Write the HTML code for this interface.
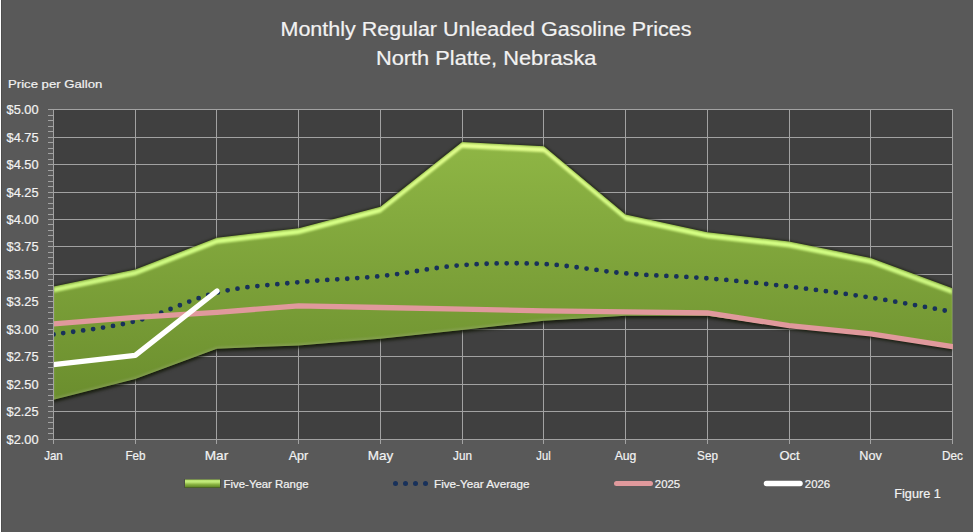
<!DOCTYPE html>
<html><head><meta charset="utf-8"><title>Monthly Regular Unleaded Gasoline Prices</title><style>
html,body{margin:0;padding:0;background:#595959;overflow:hidden;}
svg{display:block;}
</style></head><body>
<svg width="973" height="532" viewBox="0 0 973 532">
<rect x="0" y="0" width="973" height="532" fill="#595959"/>
<rect x="0" y="0" width="1" height="532" fill="#ffffff"/>
<rect x="1" y="0" width="1" height="532" fill="#4d4d4d"/>
<rect x="53" y="109" width="900" height="331" fill="#404040"/>
<path d="M53,109.50H953 M53,137.50H953 M53,164.50H953 M53,192.50H953 M53,219.50H953 M53,246.50H953 M53,274.50H953 M53,301.50H953 M53,329.50H953 M53,356.50H953 M53,384.50H953 M53,411.50H953 M53,439.50H953 M135.50,109V444 M216.50,109V444 M298.50,109V444 M380.50,109V444 M462.50,109V444 M543.50,109V444 M625.50,109V444 M707.50,109V444 M789.50,109V444 M870.50,109V444 M952.50,109V444" stroke="#a2a2a2" stroke-width="1" fill="none"/>
<defs>
<linearGradient id="gfill" x1="0" y1="0" x2="0" y2="1" gradientUnits="objectBoundingBox">
<stop offset="0" stop-color="#8fb645"/><stop offset="1" stop-color="#6b8e2e"/></linearGradient>
<filter id="shadow" x="-5%" y="-10%" width="110%" height="120%" color-interpolation-filters="sRGB">
<feMorphology in="SourceAlpha" operator="dilate" radius="0.8" result="d"/>
<feGaussianBlur in="d" stdDeviation="1.1" result="g"/>
<feFlood flood-color="#1a2010" flood-opacity="0.6"/>
<feComposite in2="g" operator="in" result="gc"/>
<feGaussianBlur in="SourceAlpha" stdDeviation="1.6"/>
<feOffset dx="0" dy="2.6" result="o"/>
<feFlood flood-color="#101505" flood-opacity="0.65"/>
<feComposite in2="o" operator="in" result="sc"/>
<feMerge><feMergeNode in="gc"/><feMergeNode in="sc"/></feMerge>
</filter>
<filter id="bevel" x="-5%" y="-10%" width="110%" height="120%" color-interpolation-filters="sRGB">
<feOffset in="SourceAlpha" dx="0" dy="1.3" result="a1"/>
<feOffset in="SourceAlpha" dx="0" dy="5.5" result="a2"/>
<feComposite in="a1" in2="a2" operator="out" result="band"/>
<feGaussianBlur in="band" stdDeviation="1.0" result="bandb"/>
<feComposite in="bandb" in2="SourceAlpha" operator="in" result="hl"/>
<feComponentTransfer in="SourceGraphic" result="bright">
<feFuncR type="linear" slope="1.15" intercept="0.25"/><feFuncG type="linear" slope="1.15" intercept="0.25"/><feFuncB type="linear" slope="1.15" intercept="0.25"/>
</feComponentTransfer>
<feComposite in="bright" in2="hl" operator="in" result="hlc"/>
<feOffset in="SourceAlpha" dx="0" dy="-2.5" result="o2"/>
<feGaussianBlur in="o2" stdDeviation="1.0" result="b2"/>
<feComposite in="SourceAlpha" in2="b2" operator="out" result="sh"/>
<feFlood flood-color="#98a870" flood-opacity="0.45"/>
<feComposite in2="sh" operator="in" result="shc"/>
<feMerge><feMergeNode in="SourceGraphic"/><feMergeNode in="hlc"/><feMergeNode in="shc"/></feMerge>
</filter>
<clipPath id="plotclip"><rect x="53" y="100" width="900" height="340"/></clipPath>
<clipPath id="areaclip"><rect x="54" y="100" width="898.5" height="340"/></clipPath>
</defs>
<g clip-path="url(#areaclip)"><polygon points="53.50,286.59 135.23,269.54 216.95,237.65 298.68,228.30 380.41,206.85 462.14,141.96 543.86,146.36 625.59,214.55 707.32,232.15 789.05,241.50 870.77,257.99 952.50,288.24 952.50,348.18 870.77,335.53 789.05,327.28 707.32,315.73 625.59,315.73 543.86,320.68 462.14,330.03 380.41,338.83 298.68,345.43 216.95,348.73 135.23,378.97 53.50,399.87" fill="#000" filter="url(#shadow)"/>
<polygon points="53.50,286.59 135.23,269.54 216.95,237.65 298.68,228.30 380.41,206.85 462.14,141.96 543.86,146.36 625.59,214.55 707.32,232.15 789.05,241.50 870.77,257.99 952.50,288.24 952.50,348.18 870.77,335.53 789.05,327.28 707.32,315.73 625.59,315.73 543.86,320.68 462.14,330.03 380.41,338.83 298.68,345.43 216.95,348.73 135.23,378.97 53.50,399.87" fill="url(#gfill)" filter="url(#bevel)"/></g>
<g clip-path="url(#plotclip)">
<path d="M53.50,334.43 C67.12,332.23 107.98,328.20 135.23,321.23 C162.47,314.27 189.71,299.14 216.95,292.64 C244.20,286.13 271.44,284.94 298.68,282.19 C325.92,279.44 353.17,278.98 380.41,276.14 C407.65,273.30 434.89,267.16 462.14,265.14 C489.38,263.13 516.62,262.67 543.86,264.04 C571.11,265.42 598.35,271.01 625.59,273.39 C652.83,275.77 680.08,276.14 707.32,278.34 C734.56,280.54 761.80,283.38 789.05,286.59 C816.29,289.80 843.53,293.37 870.77,297.59 C898.02,301.80 938.88,309.50 952.50,311.88" fill="none" stroke="#18315a" stroke-width="4.8" stroke-linecap="round" stroke-dasharray="0 10.02"/>
<polyline points="53.50,323.98 135.23,317.38 216.95,312.43 298.68,305.83 380.41,307.48 462.14,309.13 543.86,310.78 625.59,311.88 707.32,312.98 789.05,325.63 870.77,333.88 952.50,346.53" fill="none" stroke="#e0999c" stroke-width="5.3" stroke-linejoin="round" stroke-linecap="round"/>
<polyline points="53.50,364.67 135.23,355.33 216.95,290.99" fill="none" stroke="#ffffff" stroke-width="5.3" stroke-linejoin="round" stroke-linecap="round"/>
</g>
<path d="M48,109.50H53 M48,115.50H53 M48,120.50H53 M48,126.50H53 M48,131.50H53 M48,137.50H53 M48,142.50H53 M48,148.50H53 M48,153.50H53 M48,159.50H53 M48,164.50H53 M48,170.50H53 M48,175.50H53 M48,181.50H53 M48,186.50H53 M48,192.50H53 M48,197.50H53 M48,203.50H53 M48,208.50H53 M48,214.50H53 M48,219.50H53 M48,224.50H53 M48,230.50H53 M48,235.50H53 M48,241.50H53 M48,246.50H53 M48,252.50H53 M48,257.50H53 M48,263.50H53 M48,268.50H53 M48,274.50H53 M48,279.50H53 M48,285.50H53 M48,290.50H53 M48,296.50H53 M48,301.50H53 M48,307.50H53 M48,312.50H53 M48,318.50H53 M48,323.50H53 M48,329.50H53 M48,334.50H53 M48,340.50H53 M48,345.50H53 M48,351.50H53 M48,356.50H53 M48,362.50H53 M48,367.50H53 M48,373.50H53 M48,378.50H53 M48,384.50H53 M48,389.50H53 M48,395.50H53 M48,400.50H53 M48,406.50H53 M48,411.50H53 M48,417.50H53 M48,422.50H53 M48,428.50H53 M48,433.50H53 M48,439.50H53 M53.5,109V444 M48,439.5H953 M53.5,439V444" stroke="#a2a2a2" stroke-width="1" fill="none"/>
<text x="486" y="36" font-family="Liberation Sans, sans-serif" stroke="#f2f2f2" stroke-width="0.2" font-size="19.5" fill="#f2f2f2" text-anchor="middle" textLength="411" lengthAdjust="spacingAndGlyphs">Monthly Regular Unleaded Gasoline Prices</text>
<text x="486.2" y="64.7" font-family="Liberation Sans, sans-serif" stroke="#f2f2f2" stroke-width="0.2" font-size="19.5" fill="#f2f2f2" text-anchor="middle" textLength="220.5" lengthAdjust="spacingAndGlyphs">North Platte, Nebraska</text>
<text x="8" y="88.4" font-family="Liberation Sans, sans-serif" stroke="#f2f2f2" stroke-width="0.2" font-size="11.5" fill="#f2f2f2" textLength="94.3" lengthAdjust="spacingAndGlyphs">Price per Gallon</text>
<text x="38.6" y="113.90" font-family="Liberation Sans, sans-serif" stroke="#f2f2f2" stroke-width="0.2" font-size="12.6" fill="#f2f2f2" text-anchor="end" textLength="32" lengthAdjust="spacingAndGlyphs">$5.00</text>
<text x="38.6" y="141.90" font-family="Liberation Sans, sans-serif" stroke="#f2f2f2" stroke-width="0.2" font-size="12.6" fill="#f2f2f2" text-anchor="end" textLength="32" lengthAdjust="spacingAndGlyphs">$4.75</text>
<text x="38.6" y="168.90" font-family="Liberation Sans, sans-serif" stroke="#f2f2f2" stroke-width="0.2" font-size="12.6" fill="#f2f2f2" text-anchor="end" textLength="32" lengthAdjust="spacingAndGlyphs">$4.50</text>
<text x="38.6" y="196.90" font-family="Liberation Sans, sans-serif" stroke="#f2f2f2" stroke-width="0.2" font-size="12.6" fill="#f2f2f2" text-anchor="end" textLength="32" lengthAdjust="spacingAndGlyphs">$4.25</text>
<text x="38.6" y="223.90" font-family="Liberation Sans, sans-serif" stroke="#f2f2f2" stroke-width="0.2" font-size="12.6" fill="#f2f2f2" text-anchor="end" textLength="32" lengthAdjust="spacingAndGlyphs">$4.00</text>
<text x="38.6" y="250.90" font-family="Liberation Sans, sans-serif" stroke="#f2f2f2" stroke-width="0.2" font-size="12.6" fill="#f2f2f2" text-anchor="end" textLength="32" lengthAdjust="spacingAndGlyphs">$3.75</text>
<text x="38.6" y="278.90" font-family="Liberation Sans, sans-serif" stroke="#f2f2f2" stroke-width="0.2" font-size="12.6" fill="#f2f2f2" text-anchor="end" textLength="32" lengthAdjust="spacingAndGlyphs">$3.50</text>
<text x="38.6" y="305.90" font-family="Liberation Sans, sans-serif" stroke="#f2f2f2" stroke-width="0.2" font-size="12.6" fill="#f2f2f2" text-anchor="end" textLength="32" lengthAdjust="spacingAndGlyphs">$3.25</text>
<text x="38.6" y="333.90" font-family="Liberation Sans, sans-serif" stroke="#f2f2f2" stroke-width="0.2" font-size="12.6" fill="#f2f2f2" text-anchor="end" textLength="32" lengthAdjust="spacingAndGlyphs">$3.00</text>
<text x="38.6" y="360.90" font-family="Liberation Sans, sans-serif" stroke="#f2f2f2" stroke-width="0.2" font-size="12.6" fill="#f2f2f2" text-anchor="end" textLength="32" lengthAdjust="spacingAndGlyphs">$2.75</text>
<text x="38.6" y="388.90" font-family="Liberation Sans, sans-serif" stroke="#f2f2f2" stroke-width="0.2" font-size="12.6" fill="#f2f2f2" text-anchor="end" textLength="32" lengthAdjust="spacingAndGlyphs">$2.50</text>
<text x="38.6" y="415.90" font-family="Liberation Sans, sans-serif" stroke="#f2f2f2" stroke-width="0.2" font-size="12.6" fill="#f2f2f2" text-anchor="end" textLength="32" lengthAdjust="spacingAndGlyphs">$2.25</text>
<text x="38.6" y="443.90" font-family="Liberation Sans, sans-serif" stroke="#f2f2f2" stroke-width="0.2" font-size="12.6" fill="#f2f2f2" text-anchor="end" textLength="32" lengthAdjust="spacingAndGlyphs">$2.00</text>
<text x="53.50" y="460" font-family="Liberation Sans, sans-serif" stroke="#f2f2f2" stroke-width="0.2" font-size="12.2" fill="#f2f2f2" text-anchor="middle" textLength="18.6" lengthAdjust="spacingAndGlyphs">Jan</text>
<text x="135.50" y="460" font-family="Liberation Sans, sans-serif" stroke="#f2f2f2" stroke-width="0.2" font-size="12.2" fill="#f2f2f2" text-anchor="middle" textLength="20.1" lengthAdjust="spacingAndGlyphs">Feb</text>
<text x="216.50" y="460" font-family="Liberation Sans, sans-serif" stroke="#f2f2f2" stroke-width="0.2" font-size="12.2" fill="#f2f2f2" text-anchor="middle" textLength="23.5" lengthAdjust="spacingAndGlyphs">Mar</text>
<text x="298.50" y="460" font-family="Liberation Sans, sans-serif" stroke="#f2f2f2" stroke-width="0.2" font-size="12.2" fill="#f2f2f2" text-anchor="middle" textLength="19.5" lengthAdjust="spacingAndGlyphs">Apr</text>
<text x="380.50" y="460" font-family="Liberation Sans, sans-serif" stroke="#f2f2f2" stroke-width="0.2" font-size="12.2" fill="#f2f2f2" text-anchor="middle" textLength="25.5" lengthAdjust="spacingAndGlyphs">May</text>
<text x="462.50" y="460" font-family="Liberation Sans, sans-serif" stroke="#f2f2f2" stroke-width="0.2" font-size="12.2" fill="#f2f2f2" text-anchor="middle" textLength="18.9" lengthAdjust="spacingAndGlyphs">Jun</text>
<text x="543.50" y="460" font-family="Liberation Sans, sans-serif" stroke="#f2f2f2" stroke-width="0.2" font-size="12.2" fill="#f2f2f2" text-anchor="middle" textLength="14.3" lengthAdjust="spacingAndGlyphs">Jul</text>
<text x="625.50" y="460" font-family="Liberation Sans, sans-serif" stroke="#f2f2f2" stroke-width="0.2" font-size="12.2" fill="#f2f2f2" text-anchor="middle" textLength="21.7" lengthAdjust="spacingAndGlyphs">Aug</text>
<text x="707.50" y="460" font-family="Liberation Sans, sans-serif" stroke="#f2f2f2" stroke-width="0.2" font-size="12.2" fill="#f2f2f2" text-anchor="middle" textLength="20.8" lengthAdjust="spacingAndGlyphs">Sep</text>
<text x="789.50" y="460" font-family="Liberation Sans, sans-serif" stroke="#f2f2f2" stroke-width="0.2" font-size="12.2" fill="#f2f2f2" text-anchor="middle" textLength="20.2" lengthAdjust="spacingAndGlyphs">Oct</text>
<text x="870.50" y="460" font-family="Liberation Sans, sans-serif" stroke="#f2f2f2" stroke-width="0.2" font-size="12.2" fill="#f2f2f2" text-anchor="middle" textLength="22.5" lengthAdjust="spacingAndGlyphs">Nov</text>
<text x="952.50" y="460" font-family="Liberation Sans, sans-serif" stroke="#f2f2f2" stroke-width="0.2" font-size="12.2" fill="#f2f2f2" text-anchor="middle" textLength="21" lengthAdjust="spacingAndGlyphs">Dec</text>
<defs><linearGradient id="lg" x1="0" y1="0" x2="0" y2="1">
<stop offset="0" stop-color="#b4dc6c"/><stop offset="0.3" stop-color="#c4ec7c"/><stop offset="0.6" stop-color="#8cb443"/><stop offset="1" stop-color="#5a7f22"/></linearGradient></defs>
<rect x="184.5" y="479" width="36" height="9" fill="#2a3318" opacity="0.6"/>
<rect x="185" y="479.5" width="35" height="8" fill="url(#lg)"/>
<text x="223.6" y="487.8" font-family="Liberation Sans, sans-serif" stroke="#f2f2f2" stroke-width="0.2" font-size="10.8" fill="#f2f2f2" textLength="85" lengthAdjust="spacingAndGlyphs">Five-Year Range</text>
<circle cx="395.5" cy="483.6" r="2.5" fill="#18315a"/>
<circle cx="405.5" cy="483.6" r="2.5" fill="#18315a"/>
<circle cx="415.5" cy="483.6" r="2.5" fill="#18315a"/>
<circle cx="425.5" cy="483.6" r="2.5" fill="#18315a"/>
<text x="434" y="487.8" font-family="Liberation Sans, sans-serif" stroke="#f2f2f2" stroke-width="0.2" font-size="10.8" fill="#f2f2f2" textLength="95.6" lengthAdjust="spacingAndGlyphs">Five-Year Average</text>
<line x1="616.5" y1="483.5" x2="650.5" y2="483.5" stroke="#e0999c" stroke-width="5" stroke-linecap="round"/>
<text x="654.8" y="487.8" font-family="Liberation Sans, sans-serif" stroke="#f2f2f2" stroke-width="0.2" font-size="10.8" fill="#f2f2f2" textLength="25.4" lengthAdjust="spacingAndGlyphs">2025</text>
<line x1="766.5" y1="483.5" x2="800" y2="483.5" stroke="#ffffff" stroke-width="5.5" stroke-linecap="round"/>
<text x="804.8" y="487.8" font-family="Liberation Sans, sans-serif" stroke="#f2f2f2" stroke-width="0.2" font-size="10.8" fill="#f2f2f2" textLength="25.4" lengthAdjust="spacingAndGlyphs">2026</text>
<text x="894.3" y="497.7" font-family="Liberation Sans, sans-serif" stroke="#f2f2f2" stroke-width="0.2" font-size="12.6" fill="#f2f2f2" textLength="46.5" lengthAdjust="spacingAndGlyphs">Figure 1</text>
</svg>
</body></html>
